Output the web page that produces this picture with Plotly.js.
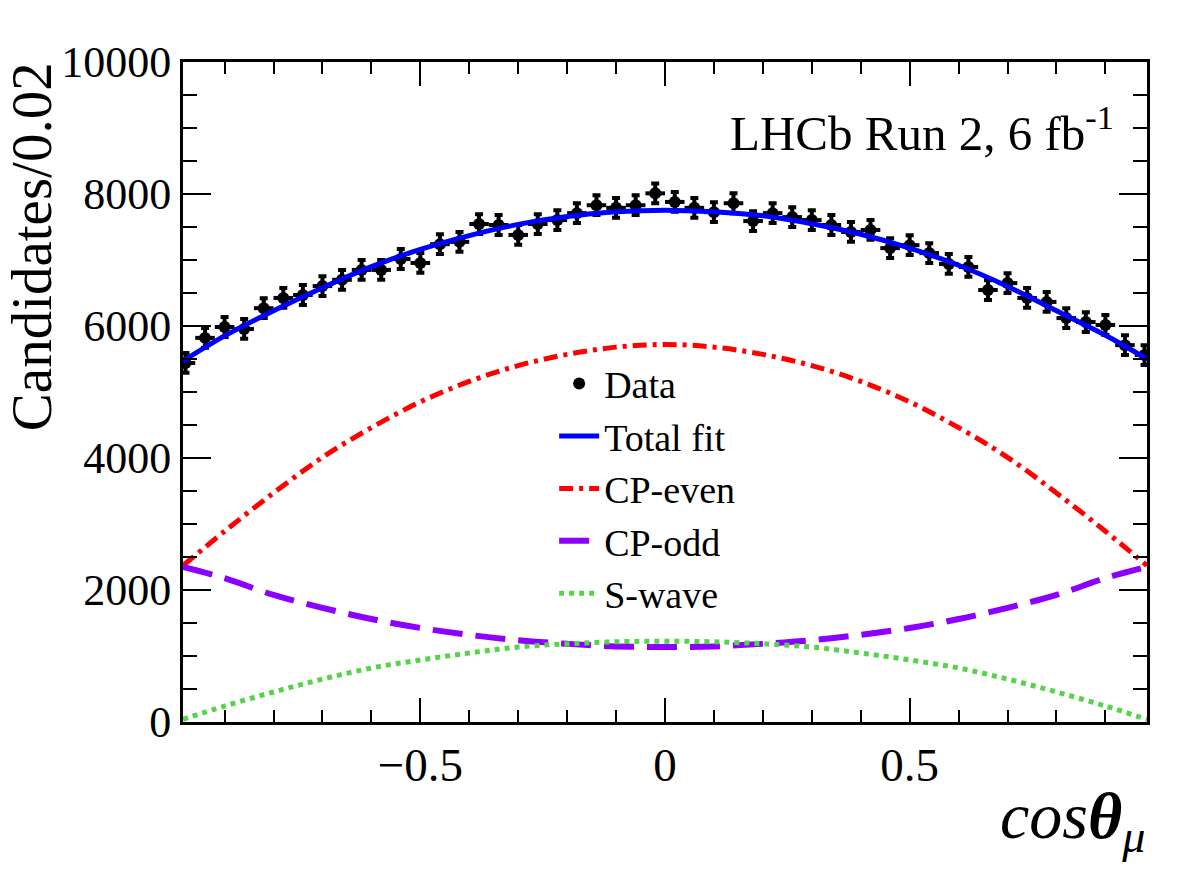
<!DOCTYPE html>
<html>
<head>
<meta charset="utf-8">
<script src="https://cdn.plot.ly/plotly-3.0.1.min.js"></script>
<style>
  html, body { margin: 0; padding: 0; background: #fff; }
  #plot { width: 1200px; height: 870px; }
</style>
</head>
<body>
<div id="plot"></div>
<script>
// bin centres of the data points (bin width 0.04)
var binX = [-0.98, -0.94, -0.90, -0.86, -0.82, -0.78, -0.74, -0.70, -0.66, -0.62,
            -0.58, -0.54, -0.50, -0.46, -0.42, -0.38, -0.34, -0.30, -0.26, -0.22,
            -0.18, -0.14, -0.10, -0.06, -0.02, 0.02, 0.06, 0.10, 0.14, 0.18,
            0.22, 0.26, 0.30, 0.34, 0.38, 0.42, 0.46, 0.50, 0.54, 0.58,
            0.62, 0.66, 0.70, 0.74, 0.78, 0.82, 0.86, 0.90, 0.94, 0.98];
var dataY = [5440, 5820, 5985, 5955, 6270, 6425, 6470, 6605, 6700, 6850,
             6850, 7015, 6955, 7240, 7275, 7545, 7530, 7380, 7545, 7605,
             7710, 7830, 7790, 7830, 8010, 7880, 7790, 7725, 7860, 7590,
             7710, 7650, 7605, 7530, 7425, 7455, 7180, 7225, 7105, 6940,
             6895, 6545, 6650, 6425, 6365, 6120, 6060, 6015, 5710, 5560];
var dataErr = 150;
var binHalf = 0.02;

// fit curves, read at these positions
var curveX = [-0.985, -0.9, -0.8, -0.7, -0.6, -0.5, -0.4, -0.3, -0.2, -0.1, 0,
              0.1, 0.2, 0.3, 0.4, 0.5, 0.6, 0.7, 0.8, 0.9, 0.985];
var totalFit = [5470, 5850, 6230, 6580, 6900, 7160, 7370, 7540, 7660, 7730, 7755,
                7730, 7670, 7550, 7390, 7180, 6920, 6600, 6230, 5860, 5500];
var cpEven = [2370, 2890, 3470, 4010, 4460, 4850, 5160, 5400, 5570, 5680, 5720,
              5680, 5570, 5400, 5160, 4850, 4460, 4010, 3470, 2890, 2370];
var cpOdd = [2350, 2180, 1925, 1730, 1560, 1425, 1320, 1240, 1185, 1145, 1135,
             1145, 1185, 1240, 1320, 1425, 1560, 1730, 1925, 2180, 2350];
var sWave = [40, 242, 455, 650, 818, 940, 1045, 1135, 1185, 1215, 1225,
             1215, 1185, 1135, 1045, 940, 818, 650, 455, 242, 40];

var serif = "'Liberation Serif', 'Times New Roman', serif";

var traces = [
  {
    x: binX, y: dataY, name: "Data", type: "scatter", mode: "markers",
    legendgroup: "g1",
    marker: { color: "black", size: 12 },
    error_y: { type: "constant", value: dataErr, color: "black", thickness: 4, width: 4 },
    error_x: { type: "constant", value: binHalf, color: "black", thickness: 4, width: 0 }
  },
  {
    x: curveX, y: totalFit, name: "Total fit", type: "scatter", mode: "lines",
    legendgroup: "g2",
    line: { color: "#0000ff", width: 5, shape: "spline" }
  },
  {
    x: curveX, y: cpEven, name: "CP-even", type: "scatter", mode: "lines",
    legendgroup: "g3",
    line: { color: "#ff0000", width: 5, shape: "spline", dash: "14px,6px,4px,6px" }
  },
  {
    x: curveX, y: cpOdd, name: "CP-odd", type: "scatter", mode: "lines",
    legendgroup: "g4",
    line: { color: "#8c00ff", width: 6, shape: "spline", dash: "30px,13px" }
  },
  {
    x: curveX, y: sWave, name: "S-wave", type: "scatter", mode: "lines",
    legendgroup: "g5",
    line: { color: "#55d44a", width: 5, shape: "spline", dash: "5px,5px" }
  }
];

var layout = {
  width: 1200, height: 870,
  margin: { l: 183, r: 53, t: 62, b: 148 },
  paper_bgcolor: "white", plot_bgcolor: "white",
  font: { family: serif, color: "black", size: 40 },
  showlegend: true,
  legend: {
    x: 0.385, y: 0.56, xanchor: "left", yanchor: "top",
    bgcolor: "rgba(0,0,0,0)", borderwidth: 0,
    font: { family: serif, size: 38, color: "black" },
    itemwidth: 40,
    tracegroupgap: 0
  },
  xaxis: {
    range: [-0.985, 0.985],
    tick0: 0, dtick: 0.5,
    ticks: "inside", ticklen: 24, tickwidth: 2, tickcolor: "black",
    minor: { dtick: 0.1, ticks: "inside", ticklen: 12, tickwidth: 2, tickcolor: "black" },
    showline: true, linecolor: "black", linewidth: 3, mirror: "ticks",
    showgrid: false, zeroline: false,
    tickfont: { family: serif, size: 47, color: "black" }
  },
  yaxis: {
    range: [0, 10000],
    tick0: 0, dtick: 2000, tickformat: "d",
    ticks: "inside", ticklen: 28, tickwidth: 2, tickcolor: "black",
    minor: { dtick: 500, ticks: "inside", ticklen: 14, tickwidth: 2, tickcolor: "black" },
    showline: true, linecolor: "black", linewidth: 3, mirror: "ticks",
    showgrid: false, zeroline: false,
    tickfont: { family: serif, size: 44, color: "black" }
  },
  annotations: [
    {
      xref: "paper", yref: "paper", x: 0.968, y: 0.897,
      xanchor: "right", yanchor: "middle", showarrow: false,
      text: "LHCb Run 2, 6 fb<sup>-1</sup>",
      font: { family: serif, size: 49, color: "black" }
    },
    {
      xref: "paper", yref: "paper", x: 1.0, y: -0.15,
      xanchor: "right", yanchor: "middle", showarrow: false,
      text: "<i>cos<b>θ</b></i><sub><i>μ</i></sub>",
      font: { family: serif, size: 66, color: "black" }
    },
    {
      xref: "paper", yref: "paper", x: -0.157, y: 1.003,
      xanchor: "center", yanchor: "top", showarrow: false, textangle: -90,
      text: "Candidates/0.02",
      font: { family: serif, size: 57, color: "black" }
    }
  ]
};

Plotly.newPlot("plot", traces, layout, { staticPlot: true, displayModeBar: false });
</script>
</body>
</html>
